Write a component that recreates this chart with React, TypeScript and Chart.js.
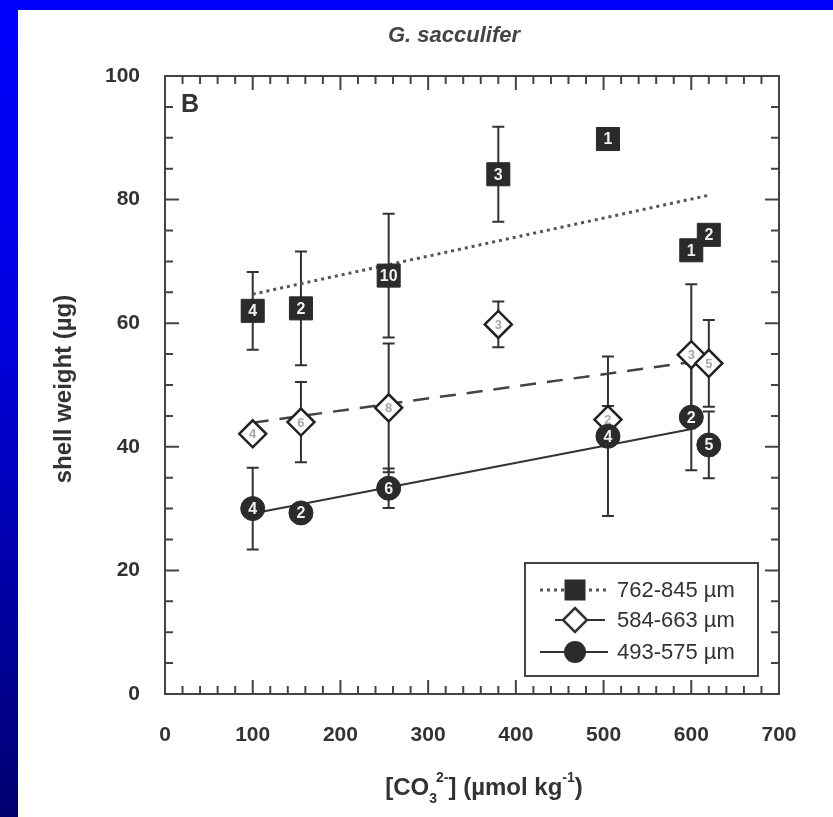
import React, { useEffect, useRef } from "react";
import { Chart, registerables } from "chart.js";

Chart.register(...registerables);

// ---- data ----
const xTicks = [0, 100, 200, 300, 400, 500, 600, 700];
const yTicks = [0, 20, 40, 60, 80, 100];

const squareX = [100, 155, 255, 380, 505, 600, 620];
const squareY = [62.0, 62.4, 67.7, 84.1, 89.8, 71.8, 74.3];
const squareErr = [6.3, 9.2, 10.0, 7.7, 0, 0, 0];
const squareN = ["4", "2", "10", "3", "1", "1", "2"];

const diamondX = [100, 155, 255, 380, 505, 600, 620];
const diamondY = [42.1, 44.0, 46.3, 59.8, 44.4, 54.9, 53.5];
const diamondErr = [0, 6.5, 10.4, 3.7, 2.2, 11.4, 7.0];
const diamondN = ["4", "6", "8", "3", "2", "3", "5"];

const circleX = [100, 155, 255, 505, 600, 620];
const circleY = [30.0, 29.3, 33.3, 41.7, 44.8, 40.3];
const circleErr = [6.6, 0, 3.2, 12.9, 8.6, 5.4];
const circleN = ["4", "2", "6", "4", "2", "5"];

const fitSquareX = [100, 620];
const fitSquareY = [64.7, 80.7];
const fitDiamondX = [100, 600];
const fitDiamondY = [43.9, 53.7];
const fitCircleX = [100, 605];
const fitCircleY = [29.2, 43.0];

const legendLabels = ["762-845 µm", "584-663 µm", "493-575 µm"];
const chartTitle = "G. sacculifer";
const yTitle = "shell weight (µg)";
const panelLabel = "B";

const FONT = "'Liberation Sans', Arial, Helvetica, sans-serif";
const DARK = "#2b2b2b";
const INK = "#333";

const pts = (xs: number[], ys: number[]) => xs.map((v, i) => ({ x: v, y: ys[i] }));

const decor = {
  id: "decor",
  beforeDatasetsDraw(chart: any) {
    const { ctx } = chart;
    const x = chart.scales.x;
    const y = chart.scales.y;
    ctx.save();
    ctx.strokeStyle = INK;
    ctx.lineWidth = 2;
    const groups: [number[], number[], number[]][] = [
      [squareX, squareY, squareErr],
      [diamondX, diamondY, diamondErr],
      [circleX, circleY, circleErr],
    ];
    for (const [xs, ys, es] of groups) {
      xs.forEach((xv, i) => {
        const e = es[i];
        if (!e) return;
        const px = x.getPixelForValue(xv);
        const top = y.getPixelForValue(ys[i] + e);
        const bot = y.getPixelForValue(ys[i] - e);
        ctx.beginPath();
        ctx.moveTo(px, top);
        ctx.lineTo(px, bot);
        ctx.moveTo(px - 6, top);
        ctx.lineTo(px + 6, top);
        ctx.moveTo(px - 6, bot);
        ctx.lineTo(px + 6, bot);
        ctx.stroke();
      });
    }
    ctx.restore();
  },
  afterDatasetsDraw(chart: any) {
    const { ctx } = chart;
    const x = chart.scales.x;
    const y = chart.scales.y;
    ctx.save();
    ctx.textAlign = "center";
    ctx.textBaseline = "middle";
    const lab = (xs: number[], ys: number[], ns: string[], color: string, size: number) => {
      ctx.fillStyle = color;
      ctx.font = `bold ${size}px ${FONT}`;
      xs.forEach((xv, i) => {
        ctx.fillText(ns[i], x.getPixelForValue(xv), y.getPixelForValue(ys[i]) + 1);
      });
    };
    lab(squareX, squareY, squareN, "#f0f0f0", 16);
    lab(diamondX, diamondY, diamondN, "#a8a8a8", 13);
    lab(circleX, circleY, circleN, "#f0f0f0", 16);
    ctx.restore();
  },
  afterDraw(chart: any) {
    const { ctx, chartArea: a } = chart;
    const x = chart.scales.x;
    const y = chart.scales.y;
    ctx.save();
    // frame
    ctx.strokeStyle = "#444";
    ctx.lineWidth = 2;
    ctx.strokeRect(a.left, a.top, a.right - a.left, a.bottom - a.top);
    // inward ticks
    ctx.beginPath();
    for (let v = 0; v <= 700; v += 20) {
      const px = x.getPixelForValue(v);
      const len = v % 100 === 0 ? 14 : 8;
      ctx.moveTo(px, a.bottom);
      ctx.lineTo(px, a.bottom - len);
      ctx.moveTo(px, a.top);
      ctx.lineTo(px, a.top + len);
    }
    for (let v = 0; v <= 100; v += 5) {
      const py = y.getPixelForValue(v);
      const len = v % 20 === 0 ? 14 : 8;
      ctx.moveTo(a.left, py);
      ctx.lineTo(a.left + len, py);
      ctx.moveTo(a.right, py);
      ctx.lineTo(a.right - len, py);
    }
    ctx.stroke();

    // panel label
    ctx.fillStyle = INK;
    ctx.font = `bold 25px ${FONT}`;
    ctx.textAlign = "left";
    ctx.textBaseline = "middle";
    ctx.fillText(panelLabel, a.left + 16, a.top + 29);

    // chart title
    ctx.font = `italic bold 22px ${FONT}`;
    ctx.textAlign = "center";
    ctx.fillStyle = "#444";
    ctx.fillText(chartTitle, 436, 26);

    // y title
    ctx.save();
    ctx.translate(46, (a.top + a.bottom) / 2 + 4);
    ctx.rotate(-Math.PI / 2);
    ctx.font = `bold 24px ${FONT}`;
    ctx.fillStyle = INK;
    ctx.fillText(yTitle, 0, 0);
    ctx.restore();

    // x title with sub/superscripts
    const big = `bold 24px ${FONT}`;
    const small = `bold 14px ${FONT}`;
    const parts: [string, string, number][] = [
      ["[CO", big, 0],
      ["3", small, 11],
      ["2-", small, -10],
      ["] (µmol kg", big, 0],
      ["-1", small, -10],
      [")", big, 0],
    ];
    let total = 0;
    const widths = parts.map(([t, f], i) => {
      ctx.font = f;
      let w = ctx.measureText(t).width;
      if (i === 1) w = w - 1;
      total += w;
      return w;
    });
    let cx = 466 - total / 2;
    const cy = 778;
    ctx.textAlign = "left";
    ctx.fillStyle = INK;
    parts.forEach(([t, f, dy], i) => {
      ctx.font = f;
      ctx.fillText(t, cx, cy + dy);
      cx += widths[i];
    });

    // legend
    const bl = a.right - 254;
    const br = a.right - 21;
    const bt = a.bottom - 131;
    const bb = a.bottom - 18;
    ctx.lineWidth = 2;
    ctx.strokeStyle = "#444";
    ctx.strokeRect(bl, bt, br - bl, bb - bt);
    const rows = [a.bottom - 104, a.bottom - 74, a.bottom - 42];
    const sx = a.right - 204;
    // row 1: dotted + square
    ctx.strokeStyle = "#555";
    ctx.lineWidth = 3;
    ctx.setLineDash([3, 4]);
    ctx.beginPath();
    ctx.moveTo(a.right - 239, rows[0]);
    ctx.lineTo(a.right - 171, rows[0]);
    ctx.stroke();
    ctx.setLineDash([]);
    ctx.fillStyle = DARK;
    ctx.fillRect(sx - 10.5, rows[0] - 10.5, 21, 21);
    // row 2: line + diamond
    ctx.strokeStyle = "#333";
    ctx.lineWidth = 2;
    ctx.beginPath();
    ctx.moveTo(a.right - 224, rows[1]);
    ctx.lineTo(a.right - 174, rows[1]);
    ctx.stroke();
    ctx.fillStyle = "#fff";
    ctx.lineWidth = 2.5;
    ctx.beginPath();
    ctx.moveTo(sx, rows[1] - 12);
    ctx.lineTo(sx + 12, rows[1]);
    ctx.lineTo(sx, rows[1] + 12);
    ctx.lineTo(sx - 12, rows[1]);
    ctx.closePath();
    ctx.fill();
    ctx.stroke();
    // row 3: line + circle
    ctx.lineWidth = 2;
    ctx.beginPath();
    ctx.moveTo(a.right - 239, rows[2]);
    ctx.lineTo(a.right - 171, rows[2]);
    ctx.stroke();
    ctx.fillStyle = DARK;
    ctx.beginPath();
    ctx.arc(sx, rows[2], 11, 0, Math.PI * 2);
    ctx.fill();
    // legend text
    ctx.fillStyle = INK;
    ctx.font = `22px ${FONT}`;
    ctx.textAlign = "left";
    ctx.textBaseline = "middle";
    legendLabels.forEach((t, i) => ctx.fillText(t, a.right - 162, rows[i] + 1));
    ctx.restore();
  },
};

export default function App() {
  const ref = useRef<HTMLCanvasElement | null>(null);
  useEffect(() => {
    if (!ref.current) return;
    const tickFont = { family: FONT, size: 21, weight: "bold" as const };
    const chart = new Chart(ref.current, {
      type: "scatter",
      data: {
        datasets: [
          {
            label: legendLabels[2],
            data: pts(circleX, circleY),
            pointStyle: "circle",
            pointRadius: 12,
            pointBackgroundColor: DARK,
            pointBorderColor: DARK,
            pointBorderWidth: 1,
          },
          {
            label: legendLabels[1],
            data: pts(diamondX, diamondY),
            pointStyle: "rectRot",
            pointRadius: 13.5,
            pointBackgroundColor: "#fff",
            pointBorderColor: "#222",
            pointBorderWidth: 2.5,
          },
          {
            label: legendLabels[0],
            data: pts(squareX, squareY),
            pointStyle: "rect",
            pointRadius: 16.3,
            pointBackgroundColor: DARK,
            pointBorderColor: DARK,
            pointBorderWidth: 1,
          },
          {
            label: "fit small",
            data: pts(fitCircleX, fitCircleY),
            showLine: true,
            pointRadius: 0,
            borderColor: "#333",
            borderWidth: 2,
          },
          {
            label: "fit medium",
            data: pts(fitDiamondX, fitDiamondY),
            showLine: true,
            pointRadius: 0,
            borderColor: "#444",
            borderWidth: 2.5,
            borderDash: [16, 11],
          },
          {
            label: "fit large",
            data: pts(fitSquareX, fitSquareY),
            showLine: true,
            pointRadius: 0,
            borderColor: "#555",
            borderWidth: 3,
            borderDash: [3, 4],
          },
        ] as any,
      },
      options: {
        animation: false,
        responsive: false,
        devicePixelRatio: 1,
        layout: { padding: { top: 66, right: 54, left: 0, bottom: 0 } },
        plugins: {
          legend: { display: false },
          tooltip: { enabled: false },
          title: { display: false },
        },
        scales: {
          x: {
            type: "linear",
            min: 0,
            max: 700,
            afterBuildTicks: (s: any) => {
              s.ticks = xTicks.map((v) => ({ value: v }));
            },
            afterFit: (s: any) => {
              s.height = 123;
            },
            grid: { display: false, drawTicks: false },
            border: { display: false },
            ticks: { font: tickFont, color: INK, padding: 29, maxRotation: 0 },
          },
          y: {
            type: "linear",
            min: 0,
            max: 100,
            afterBuildTicks: (s: any) => {
              s.ticks = yTicks.map((v) => ({ value: v }));
            },
            afterFit: (s: any) => {
              s.width = 147;
            },
            grid: { display: false, drawTicks: false },
            border: { display: false },
            ticks: { font: tickFont, color: INK, padding: 25 },
          },
        },
      } as any,
      plugins: [decor],
    });
    return () => chart.destroy();
  }, []);

  return (
    <div
      style={{
        position: "fixed",
        left: 0,
        top: 0,
        width: 833,
        height: 817,
        background: "linear-gradient(to bottom, #0000ff 0%, #0000e0 40%, #000070 100%)",
        overflow: "hidden",
      }}
    >
      <div
        style={{
          position: "absolute",
          left: 18,
          top: 10,
          width: 815,
          height: 807,
          background: "#fff",
        }}
      >
        <canvas ref={ref} width={815} height={807} style={{ display: "block" }} />
      </div>
    </div>
  );
}
